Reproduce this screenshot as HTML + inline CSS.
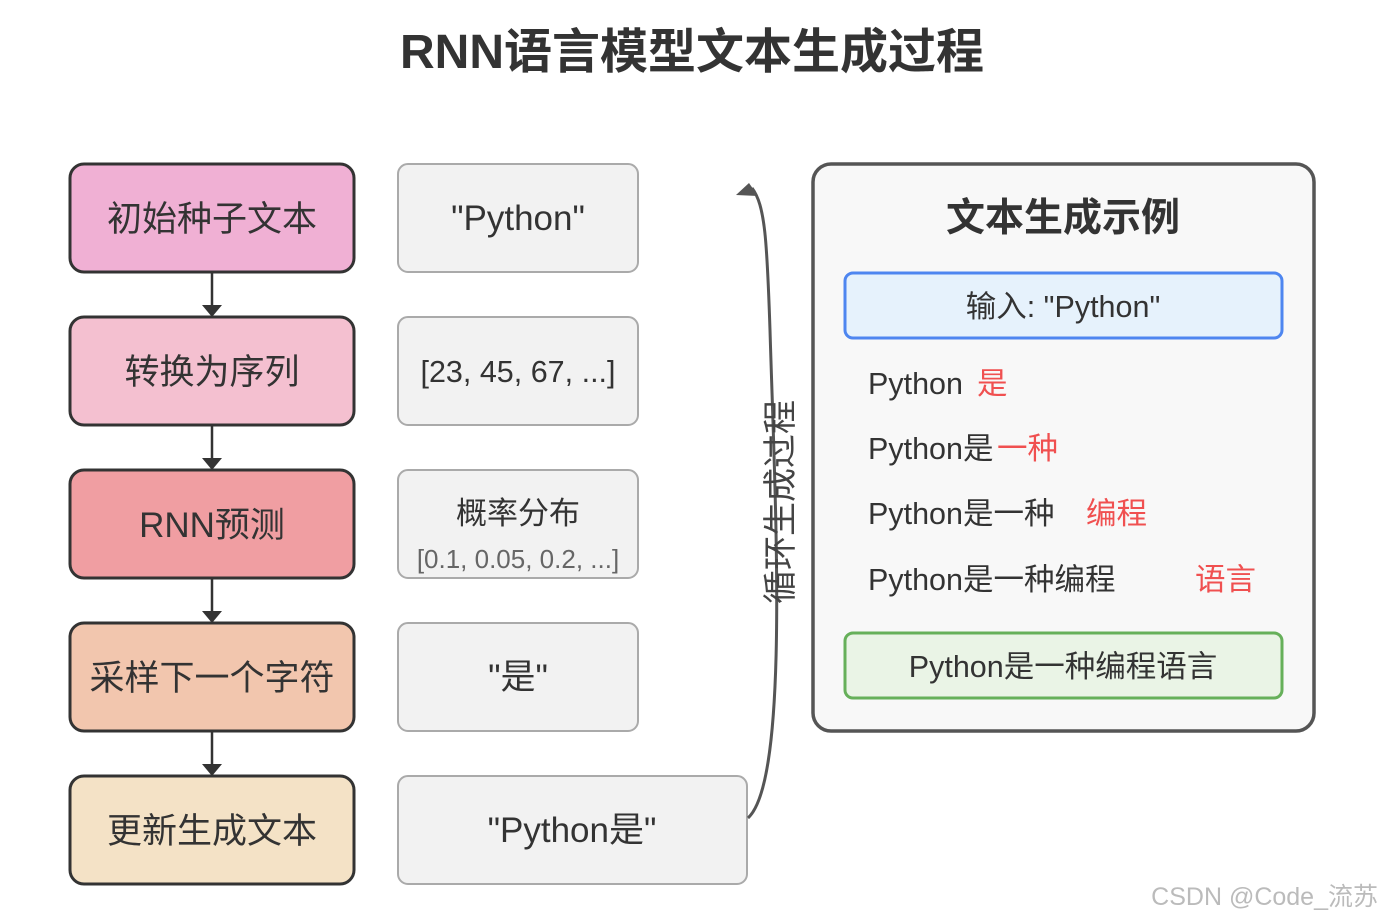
<!DOCTYPE html>
<html><head><meta charset="utf-8"><style>
body{margin:0;background:#fff;}
svg text{font-family:"Liberation Sans","Noto Sans CJK SC",sans-serif;}
</style></head><body>
<svg width="1383" height="919" viewBox="0 0 1383 919" xmlns="http://www.w3.org/2000/svg">
<text x="692" y="68" text-anchor="middle" font-size="48" font-weight="bold" fill="#333">RNN语言模型文本生成过程</text>
<g stroke="#333" stroke-width="3">
<rect x="70" y="164" width="284" height="108" rx="14" fill="#f0b0d4"/>
<rect x="70" y="317" width="284" height="108" rx="14" fill="#f4c0d0"/>
<rect x="70" y="470" width="284" height="108" rx="14" fill="#f09ea2"/>
<rect x="70" y="623" width="284" height="108" rx="14" fill="#f2c6ae"/>
<rect x="70" y="776" width="284" height="108" rx="14" fill="#f4e2c6"/>
</g>
<g font-size="35" fill="#333" text-anchor="middle">
<text x="212" y="231">初始种子文本</text>
<text x="212" y="384">转换为序列</text>
<text x="212" y="537">RNN预测</text>
<text x="212" y="690">采样下一个字符</text>
<text x="212" y="843">更新生成文本</text>
</g>
<g stroke="#333" stroke-width="2.5">
<line x1="212" y1="272" x2="212" y2="308"/><line x1="212" y1="425" x2="212" y2="461"/>
<line x1="212" y1="578" x2="212" y2="614"/><line x1="212" y1="731" x2="212" y2="767"/>
</g>
<g fill="#333">
<polygon points="202,305 222,305 212,317"/><polygon points="202,458 222,458 212,470"/>
<polygon points="202,611 222,611 212,623"/><polygon points="202,764 222,764 212,776"/>
</g>
<g stroke="#aaa" stroke-width="2" fill="#f2f2f2">
<rect x="398" y="164" width="240" height="108" rx="10"/>
<rect x="398" y="317" width="240" height="108" rx="10"/>
<rect x="398" y="470" width="240" height="108" rx="10"/>
<rect x="398" y="623" width="240" height="108" rx="10"/>
<rect x="398" y="776" width="349" height="108" rx="10"/>
</g>
<g fill="#333" text-anchor="middle">
<text x="518" y="230" font-size="35">"Python"</text>
<text x="518" y="382" font-size="30.5">[23, 45, 67, ...]</text>
<text x="518" y="524" font-size="31">概率分布</text>
<text x="518" y="568" font-size="26" fill="#666">[0.1, 0.05, 0.2, ...]</text>
<text x="518" y="689" font-size="35">"是"</text>
<text x="572" y="842" font-size="35">"Python是"</text>
</g>
<path d="M748,818 C790,780 775,500 770,330 C767,240 765,205 752,188" fill="none" stroke="#555" stroke-width="3"/>
<polygon points="736,195 749,183 758,196" fill="#555"/>
<text transform="translate(792,502) rotate(-90)" text-anchor="middle" font-size="34" fill="#444">循环生成过程</text>
<rect x="813" y="164" width="501" height="567" rx="18" fill="#f8f8f8" stroke="#555" stroke-width="3.5"/>
<text x="1063" y="231" text-anchor="middle" font-size="39" font-weight="bold" fill="#333">文本生成示例</text>
<rect x="845" y="273" width="437" height="65" rx="8" fill="#e6f2fc" stroke="#4e86f0" stroke-width="3"/>
<text x="1063" y="317" text-anchor="middle" font-size="30.5" fill="#333">输入: "Python"</text>
<g font-size="30.5" fill="#333">
<text x="868" y="394">Python</text><text x="977" y="394" fill="#f05050">是</text>
<text x="868" y="459">Python是</text><text x="997" y="459" fill="#f05050">一种</text>
<text x="868" y="524">Python是一种</text><text x="1086" y="524" fill="#f05050">编程</text>
<text x="868" y="590">Python是一种编程</text><text x="1195" y="590" fill="#f05050">语言</text>
</g>
<rect x="845" y="633" width="437" height="65" rx="8" fill="#eaf4e6" stroke="#66b05a" stroke-width="3"/>
<text x="1063" y="677" text-anchor="middle" font-size="30.5" fill="#333">Python是一种编程语言</text>
<text x="1378" y="905" text-anchor="end" font-size="25" fill="#bbb">CSDN @Code_流苏</text>
</svg>
</body></html>
